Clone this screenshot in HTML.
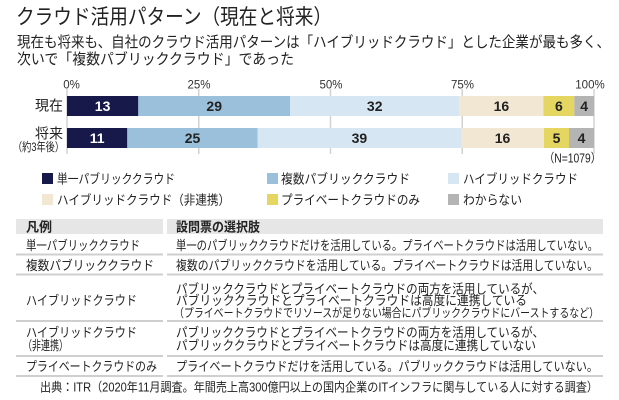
<!DOCTYPE html>
<html><head><meta charset="utf-8">
<style>
html,body{margin:0;padding:0;background:#fff;}
svg{display:block;}
text{font-family:"Liberation Sans","Noto Sans CJK JP",sans-serif;fill:#222;}
.n{font-family:"Liberation Sans",sans-serif;font-weight:bold;font-size:14px;text-anchor:middle;}
.t{font-family:"Liberation Sans",sans-serif;font-size:11.5px;text-anchor:middle;fill:#333;}
</style></head>
<body>
<svg width="619" height="400" viewBox="0 0 619 400" xmlns="http://www.w3.org/2000/svg">
<rect width="619" height="400" fill="#fff"/>

<!-- Title -->
<text x="16" y="24" font-size="21" textLength="316" lengthAdjust="spacingAndGlyphs">クラウド活用パターン（現在と将来）</text>
<text x="17" y="47" font-size="15" textLength="593" lengthAdjust="spacingAndGlyphs">現在も将来も、自社のクラウド活用パターンは「ハイブリッドクラウド」とした企業が最も多く、</text>
<text x="17" y="64" font-size="15" textLength="277" lengthAdjust="spacingAndGlyphs">次いで「複数パブリッククラウド」であった</text>

<!-- Gridlines -->
<g stroke="#d2d2d2" stroke-width="1.5">
<line x1="67" y1="89" x2="67" y2="154"/>
<line x1="198.75" y1="89" x2="198.75" y2="154"/>
<line x1="330.5" y1="89" x2="330.5" y2="154"/>
<line x1="462.25" y1="89" x2="462.25" y2="154"/>
<line x1="594" y1="89" x2="594" y2="154"/>
</g>

<!-- Tick labels -->
<text class="t" x="71.5" y="88.5">0%</text>
<text class="t" x="199" y="88.5">25%</text>
<text class="t" x="331" y="88.5">50%</text>
<text class="t" x="462.5" y="88.5">75%</text>
<text class="t" x="590" y="88.5">100%</text>

<!-- Row 1 -->
<rect x="67" y="96" width="71.3" height="20" fill="#16194a"/>
<rect x="138.3" y="96" width="151.7" height="20" fill="#9ac0db"/>
<rect x="290" y="96" width="169.3" height="20" fill="#d6e6f2"/>
<rect x="459.3" y="96" width="84.2" height="20" fill="#f1e7d3"/>
<rect x="543.5" y="96" width="30.8" height="20" fill="#e4d661"/>
<rect x="574.3" y="96" width="19.7" height="20" fill="#b4b4b4"/>
<text class="n" x="102.6" y="111" style="fill:#fff">13</text>
<text class="n" x="214.2" y="111">29</text>
<text class="n" x="374.7" y="111">32</text>
<text class="n" x="501.4" y="111">16</text>
<text class="n" x="558.9" y="111">6</text>
<text class="n" x="584.2" y="111">4</text>

<!-- Row 2 -->
<rect x="67" y="128" width="60.3" height="20" fill="#16194a"/>
<rect x="127.3" y="128" width="130.4" height="20" fill="#9ac0db"/>
<rect x="257.7" y="128" width="203.3" height="20" fill="#d6e6f2"/>
<rect x="461" y="128" width="83" height="20" fill="#f1e7d3"/>
<rect x="544" y="128" width="25" height="20" fill="#e4d661"/>
<rect x="569" y="128" width="25" height="20" fill="#b4b4b4"/>
<text class="n" x="97.2" y="143" style="fill:#fff">11</text>
<text class="n" x="192.5" y="143">25</text>
<text class="n" x="359.4" y="143">39</text>
<text class="n" x="502.5" y="143">16</text>
<text class="n" x="556.5" y="143">5</text>
<text class="n" x="581.5" y="143">4</text>

<!-- Row labels -->
<text x="63" y="110.3" font-size="14" text-anchor="end">現在</text>
<text x="63" y="138.3" font-size="14" text-anchor="end">将来</text>
<text x="64" y="151" font-size="12" text-anchor="end" textLength="51" lengthAdjust="spacingAndGlyphs">（約3年後）</text>
<text x="601" y="162.5" font-size="12.5" text-anchor="end" textLength="57" lengthAdjust="spacingAndGlyphs">（N=1079）</text>

<!-- Legend -->
<rect x="42" y="173" width="11" height="11" fill="#16194a"/>
<text x="57" y="183.5" font-size="13" textLength="118" lengthAdjust="spacingAndGlyphs">単一パブリッククラウド</text>
<rect x="267" y="173" width="11" height="11" fill="#9ac0db"/>
<text x="281" y="183.5" font-size="13" textLength="129" lengthAdjust="spacingAndGlyphs">複数パブリッククラウド</text>
<rect x="448" y="173" width="11" height="11" fill="#d6e6f2"/>
<text x="463" y="183.5" font-size="13" textLength="115" lengthAdjust="spacingAndGlyphs">ハイブリッドクラウド</text>

<rect x="42" y="194" width="11" height="11" fill="#f1e7d3"/>
<text x="57" y="204.5" font-size="13" textLength="173" lengthAdjust="spacingAndGlyphs">ハイブリッドクラウド（非連携）</text>
<rect x="267" y="194" width="11" height="11" fill="#e4d661"/>
<text x="281" y="204.5" font-size="13" textLength="139" lengthAdjust="spacingAndGlyphs">プライベートクラウドのみ</text>
<rect x="448" y="194" width="11" height="11" fill="#b4b4b4"/>
<text x="463" y="204.5" font-size="13" textLength="59" lengthAdjust="spacingAndGlyphs">わからない</text>

<!-- Table header -->
<rect x="16" y="219" width="147" height="15" fill="#e6e6e6"/>
<rect x="167" y="219" width="436" height="15" fill="#e6e6e6"/>
<text x="26" y="231.5" font-size="13" font-weight="bold">凡例</text>
<text x="176" y="231.5" font-size="13" font-weight="bold" textLength="84" lengthAdjust="spacingAndGlyphs">設問票の選択肢</text>

<!-- Row separators -->
<g stroke="#cfcfcf" stroke-width="2">
<line x1="16" y1="254.5" x2="163" y2="254.5"/><line x1="167" y1="254.5" x2="603" y2="254.5"/>
<line x1="16" y1="274.5" x2="163" y2="274.5"/><line x1="167" y1="274.5" x2="603" y2="274.5"/>
<line x1="16" y1="321" x2="163" y2="321"/><line x1="167" y1="321" x2="603" y2="321"/>
<line x1="16" y1="356" x2="163" y2="356"/><line x1="167" y1="356" x2="603" y2="356"/>
<line x1="16" y1="376" x2="163" y2="376"/><line x1="167" y1="376" x2="603" y2="376"/>
</g>

<!-- Table rows -->
<text x="26" y="250" font-size="13" textLength="114" lengthAdjust="spacingAndGlyphs">単一パブリッククラウド</text>
<text x="176" y="250" font-size="13" textLength="422" lengthAdjust="spacingAndGlyphs">単一のパブリッククラウドだけを活用している。プライベートクラウドは活用していない。</text>

<text x="26" y="270" font-size="13" textLength="128" lengthAdjust="spacingAndGlyphs">複数パブリッククラウド</text>
<text x="176" y="270" font-size="13" textLength="422" lengthAdjust="spacingAndGlyphs">複数のパブリッククラウドを活用している。プライベートクラウドは活用していない。</text>

<text x="26" y="305" font-size="13" textLength="111" lengthAdjust="spacingAndGlyphs">ハイブリッドクラウド</text>
<text x="176" y="293.3" font-size="13" textLength="368" lengthAdjust="spacingAndGlyphs">パブリッククラウドとプライベートクラウドの両方を活用しているが、</text>
<text x="176" y="305" font-size="13" textLength="351" lengthAdjust="spacingAndGlyphs">パブリッククラウドとプライベートクラウドは高度に連携している</text>
<text x="174" y="317.2" font-size="12" textLength="425" lengthAdjust="spacingAndGlyphs">（プライベートクラウドでリソースが足りない場合にパブリッククラウドにバーストするなど）</text>

<text x="26" y="337" font-size="13" textLength="111" lengthAdjust="spacingAndGlyphs">ハイブリッドクラウド</text>
<text x="23" y="350" font-size="13" textLength="45" lengthAdjust="spacingAndGlyphs">（非連携）</text>
<text x="176" y="337" font-size="13" textLength="368" lengthAdjust="spacingAndGlyphs">パブリッククラウドとプライベートクラウドの両方を活用しているが、</text>
<text x="176" y="350" font-size="13" textLength="360" lengthAdjust="spacingAndGlyphs">パブリッククラウドとプライベートクラウドは高度に連携していない</text>

<text x="26" y="371" font-size="13" textLength="131" lengthAdjust="spacingAndGlyphs">プライベートクラウドのみ</text>
<text x="176" y="371" font-size="13" textLength="422" lengthAdjust="spacingAndGlyphs">プライベートクラウドだけを活用している。パブリッククラウドは活用していない。</text>

<!-- Footer -->
<text x="40" y="391.5" font-size="12.5" textLength="558" lengthAdjust="spacingAndGlyphs">出典：ITR（2020年11月調査。年間売上高300億円以上の国内企業のITインフラに関与している人に対する調査）</text>
</svg>
</body></html>
